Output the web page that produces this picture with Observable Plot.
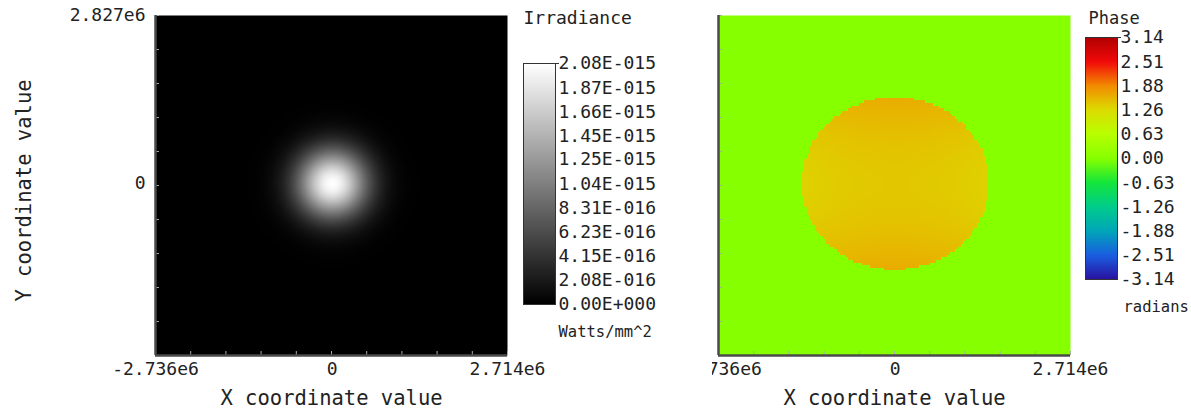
<!DOCTYPE html>
<html><head><meta charset="utf-8">
<script src="https://cdn.jsdelivr.net/npm/d3@7"></script>
<script src="https://cdn.jsdelivr.net/npm/@observablehq/plot@0.6"></script>
<style>
html,body{margin:0;padding:0;background:#fff;}
#root{position:relative;width:1191px;height:410px;overflow:hidden;font-family:"DejaVu Sans Mono",monospace;color:#222;}
.slot{position:absolute;top:0;}
.slot svg{display:block;max-width:none;}
</style></head><body><div id="root"></div>
<script>
// ---- shared axes (data units) ----
const xExtent = [-2.736e6, 2.714e6];
const yExtent = [-2.893e6, 2.827e6];
const xTickValues = [-2.736e6, 0, 2.714e6];
const xTickLabels = ["-2.736e6", "0", "2.714e6"];
const yTickValues = [2.827e6, 0];
const yTickLabels = ["2.827e6", "0"];
const xAxisLabel = "X coordinate value";
const yAxisLabel = "Y coordinate value";
const minorDivisions = 10;
const gridN = 128;

// ---- irradiance (Gaussian spot) ----
const irrPeak = 2.08e-15;
const beamCenter = [0, 0];
const beamRadius = [0.76e6, 0.8e6];   // 1/e^2 radii, x and y
const irrTickValues = [2.08e-15, 1.87e-15, 1.66e-15, 1.45e-15, 1.25e-15, 1.04e-15, 8.31e-16, 6.23e-16, 4.15e-16, 2.08e-16, 0];
const irrTickLabels = ["2.08E-015", "1.87E-015", "1.66E-015", "1.45E-015", "1.25E-015", "1.04E-015", "8.31E-016", "6.23E-016", "4.15E-016", "2.08E-016", "0.00E+000"];
const irrTitle = "Irradiance";
const irrUnits = "Watts/mm^2";
const irrColors = ["#000000", "#ffffff"];

// ---- phase (disc) ----
const discCenter = [0, 0];
const discRadius = 1.45e6;
const phaseOutside = 0.0;
const phaseInsideBase = 1.42;
const phaseCurvY = 0.22;
const phaseCurvX = -0.08;
const phaseTickValues = [3.14, 2.51, 1.88, 1.26, 0.63, 0.00, -0.63, -1.26, -1.88, -2.51, -3.14];
const phaseTickLabels = ["3.14", "2.51", "1.88", "1.26", "0.63", "0.00", "-0.63", "-1.26", "-1.88", "-2.51", "-3.14"];
const phaseColors = ["#b00000", "#f20a0a", "#f28c00", "#dcdc00", "#b8ff00", "#86ff00", "#14e63c", "#00cc8c", "#00a6b8", "#1a5ee0", "#2a12a0"];
const phaseTitle = "Phase";
const phaseUnits = "radians";

// ---- build grids ----
const dx = (xExtent[1] - xExtent[0]) / gridN, dy = (yExtent[1] - yExtent[0]) / gridN;
const irrGrid = [], phaseGrid = [];
for (let j = 0; j < gridN; j++) {
  for (let i = 0; i < gridN; i++) {
    const x = xExtent[0] + (i + 0.5) * dx, y = yExtent[0] + (j + 0.5) * dy;
    const ux = (x - beamCenter[0]) / beamRadius[0], uy = (y - beamCenter[1]) / beamRadius[1];
    irrGrid.push({x, y, v: irrPeak * Math.exp(-2 * (ux * ux + uy * uy))});
    const px = (x - discCenter[0]) / discRadius, py = (y - discCenter[1]) / discRadius;
    const inside = px * px + py * py <= 1;
    phaseGrid.push({x, y, v: inside ? phaseInsideBase + phaseCurvY * py * py + phaseCurvX * px * px : phaseOutside});
  }
}
const minorX = d3.range(minorDivisions + 1).map(k => xExtent[0] + k * (xExtent[1] - xExtent[0]) / minorDivisions);
const minorY = d3.range(minorDivisions + 1).map(k => yExtent[0] + k * (yExtent[1] - yExtent[0]) / minorDivisions);

const irrColor = {type: "linear", domain: [0, irrPeak], range: irrColors};
const phaseColor = {type: "linear", domain: phaseTickValues.slice().reverse(), range: phaseColors.slice().reverse()};

const FONT = "DejaVu Sans Mono";
const root = document.getElementById("root");
function place(svg, left, width) {
  const d = document.createElement("div");
  d.className = "slot";
  d.style.left = left + "px";
  if (width) { d.style.width = width + "px"; d.style.overflow = "hidden"; }
  d.appendChild(svg);
  root.appendChild(d);
}

function imagePanel({grid, color, render, frameLeft, svgLeft, svgWidth, showYLabels}) {
  const mL = frameLeft - svgLeft;
  const frameRight = frameLeft + 352;
  const marks = [
    Plot.raster(grid, {x: "x", y: "y", fill: "v", x1: xExtent[0], x2: xExtent[1], y1: yExtent[0], y2: yExtent[1], width: gridN, height: gridN, imageRendering: render}),
    Plot.axisX({ticks: minorX, tickSize: -4, tickFormat: () => "", stroke: "#aaaaaa", label: null}),
    Plot.axisY({ticks: minorY, tickSize: -4, tickFormat: () => "", stroke: "#aaaaaa", label: null}),
    Plot.ruleX([xExtent[0]], {stroke: "#4a4a4a", strokeWidth: 2.5}),
    Plot.ruleY([yExtent[0]], {stroke: "#4a4a4a", strokeWidth: 2.5}),
    Plot.axisX({ticks: xTickValues, tickFormat: d => xTickLabels[xTickValues.indexOf(d)], tickSize: 0, tickPadding: 7, fontSize: 18, fill: "#222", label: null}),
    Plot.text([xAxisLabel], {text: d => d, frameAnchor: "bottom", dy: 43, fontSize: 20.5, lineAnchor: "middle", textAnchor: "middle", fill: "#222"})
  ];
  if (showYLabels) {
    marks.push(Plot.axisY({ticks: yTickValues, tickFormat: d => yTickLabels[yTickValues.indexOf(d)], tickSize: 0, tickPadding: 10, fontSize: 18, fill: "#222", label: null}));
    marks.push(Plot.text([yAxisLabel], {text: d => d, frameAnchor: "left", dx: -(frameLeft - 24), dy: 5, rotate: -90, fontSize: 20.5, lineAnchor: "middle", textAnchor: "middle", fill: "#222"}));
  }
  return Plot.plot({
    width: svgWidth, height: 410,
    marginLeft: mL, marginRight: svgWidth - (frameRight - svgLeft), marginTop: 15, marginBottom: 55,
    x: {domain: xExtent, axis: null},
    y: {domain: yExtent, axis: null},
    color,
    style: {fontFamily: FONT, fontSize: "18px", color: "#222", background: "transparent", overflow: "visible"},
    marks
  });
}

function colorBar({color, domain, tickValues, tickLabels, title, units, barTop, barBottom, unitsDx, unitsDy, titleDx, titleSize, unitsSize}) {
  const n = 256;
  const bar = d3.range(n).map(k => ({x: 0.5, v: domain[0] + (k + 0.5) * (domain[1] - domain[0]) / n}));
  const W = 200, H = 360;
  return Plot.plot({
    width: W, height: H,
    marginLeft: 0, marginRight: W - 32, marginTop: barTop, marginBottom: H - barBottom,
    x: {domain: [0, 1], axis: null},
    y: {domain, axis: null},
    color,
    style: {fontFamily: FONT, fontSize: "18px", color: "#222", background: "transparent", overflow: "visible"},
    marks: [
      Plot.raster(bar, {x: "x", y: "v", fill: "v", x1: 0, x2: 1, y1: domain[0], y2: domain[1], width: 1, height: n}),
      Plot.frame({stroke: "#333", strokeWidth: 1}),
      Plot.axisY({anchor: "right", ticks: [domain[1]], tickSize: 3, tickFormat: () => "", stroke: "#333", label: null}),
      Plot.axisY({anchor: "right", ticks: tickValues, tickFormat: d => tickLabels[tickValues.indexOf(d)], tickSize: 0, tickPadding: 3, fontSize: 18, fill: "#222", label: null}),
      Plot.text([title], {text: d => d, frameAnchor: "top-left", dx: titleDx, dy: -(barTop - 18), textAnchor: "start", lineAnchor: "middle", fontSize: titleSize, fill: "#222"}),
      Plot.text([units], {text: d => d, frameAnchor: "bottom-left", dx: unitsDx, dy: unitsDy, textAnchor: "start", lineAnchor: "middle", fontSize: unitsSize, fill: "#222"})
    ]
  });
}

// left: irradiance
place(imagePanel({grid: irrGrid, color: irrColor, render: "auto", frameLeft: 155, svgLeft: 0, svgWidth: 520, showYLabels: true}), 0);
place(colorBar({color: irrColor, domain: [0, irrPeak], tickValues: irrTickValues, tickLabels: irrTickLabels, title: irrTitle, units: irrUnits, barTop: 63, barBottom: 304, unitsDx: 35, unitsDy: 28, titleDx: 0, titleSize: 18, unitsSize: 15.5}), 523);

// right: phase
place(imagePanel({grid: phaseGrid, color: phaseColor, render: "pixelated", frameLeft: 718, svgLeft: 712, svgWidth: 479, showYLabels: false}), 712, 479);
place(colorBar({color: phaseColor, domain: [-3.14, 3.14], tickValues: phaseTickValues, tickLabels: phaseTickLabels, title: phaseTitle, units: phaseUnits, barTop: 37, barBottom: 279, unitsDx: 38, unitsDy: 28, titleDx: 3, titleSize: 17, unitsSize: 15.5}), 1085);
</script></body></html>
